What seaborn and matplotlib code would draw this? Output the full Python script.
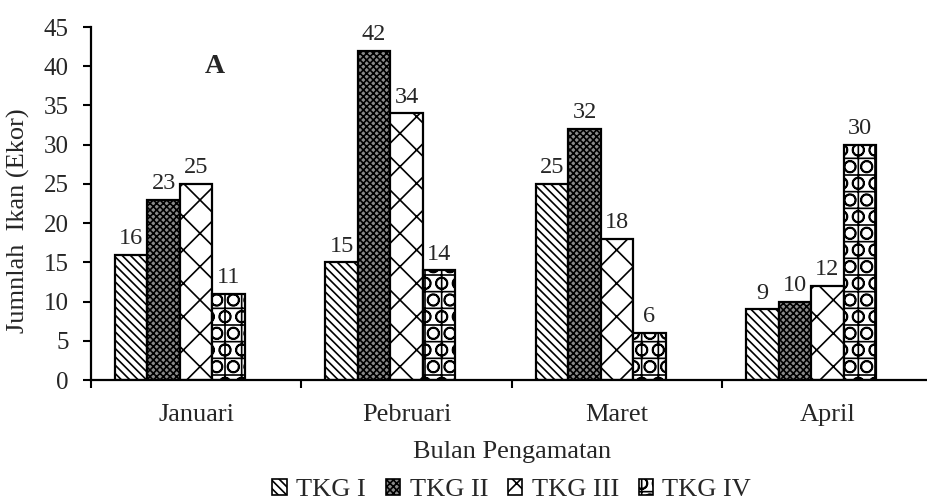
import matplotlib
matplotlib.use('Agg')
import matplotlib.pyplot as plt
from matplotlib.patches import Patch
import seaborn as sns
import pandas as pd

# data
months = ['Januari', 'Pebruari', 'Maret', 'April']
series = ['TKG I', 'TKG II', 'TKG III', 'TKG IV']
tkg1 = [16, 15, 25, 9]
tkg2 = [23, 42, 32, 10]
tkg3 = [25, 34, 18, 12]
tkg4 = [11, 14, 6, 30]

hatches = ['\\\\\\\\', 'xxxxx', 'x', 'O+']
fills = ['white', '#8a8a8a', 'white', 'white']

sns.set_style('ticks')
plt.rcParams['font.family'] = ['Liberation Serif', 'DejaVu Serif']
plt.rcParams['hatch.linewidth'] = 1.2

df = pd.DataFrame({
    'Bulan': months * 4,
    'TKG': [s for s in series for _ in months],
    'Jumlah': tkg1 + tkg2 + tkg3 + tkg4,
})

fig = plt.figure(figsize=(9.28, 5.01), dpi=100)
# axis runs past the right edge of the picture, as in the reference
ax = fig.add_axes([0.098, 0.2415, 0.907, 0.7045])

# an empty fifth level keeps Excel's group spacing
sns.barplot(data=df, x='Bulan', y='Jumlah', hue='TKG',
            hue_order=series + [' '], order=months,
            palette=['white'] * 5, edgecolor='black', linewidth=1.6,
            width=0.772, gap=0, legend=False, ax=ax)

for cont, h, fc in zip(ax.containers, hatches, fills):
    for p in cont:
        p.set_hatch(h)
        p.set_facecolor(fc)
    ax.bar_label(cont, fmt='%d', padding=4, fontsize=17.5)

ax.set_ylim(0, 45)
ax.set_yticks(range(0, 46, 5))
ax.set_xlim(-0.5, 3.5)
ax.set_xticks([0, 1, 2, 3])
ax.set_xticks([-0.5, 0.5, 1.5, 2.5, 3.5], minor=True)
ax.tick_params(axis='x', which='major', length=0, pad=17, labelsize=19)
ax.tick_params(axis='x', which='minor', length=6, width=1.5, color='black')
ax.tick_params(axis='y', length=6, width=1.5, color='black', labelsize=18, pad=10)
for s in ['top', 'right']:
    ax.spines[s].set_visible(False)
for s in ['left', 'bottom']:
    ax.spines[s].set_color('black')
    ax.spines[s].set_linewidth(1.6)

ax.set_xlabel('Bulan Pengamatan', fontsize=19, labelpad=11)
ax.set_ylabel('Jumnlah  Ikan (Ekor)', fontsize=19)
ax.yaxis.set_label_coords(-0.072, 0.45)
ax.text(0.09, 40, 'A', fontsize=20, fontweight='bold', ha='center', va='center')

handles = [Patch(facecolor=fc, edgecolor='black', hatch=h, linewidth=1.2)
           for h, fc in zip(hatches, fills)]
fig.legend(handles, series, loc='lower center', bbox_to_anchor=(0.098 + 0.907 / 2, -0.048), ncol=4,
           frameon=False, fontsize=19, handlelength=0.55, handleheight=0.55,
           handletextpad=0.35, columnspacing=0.75)

fig.savefig('out.png', dpi=100)
